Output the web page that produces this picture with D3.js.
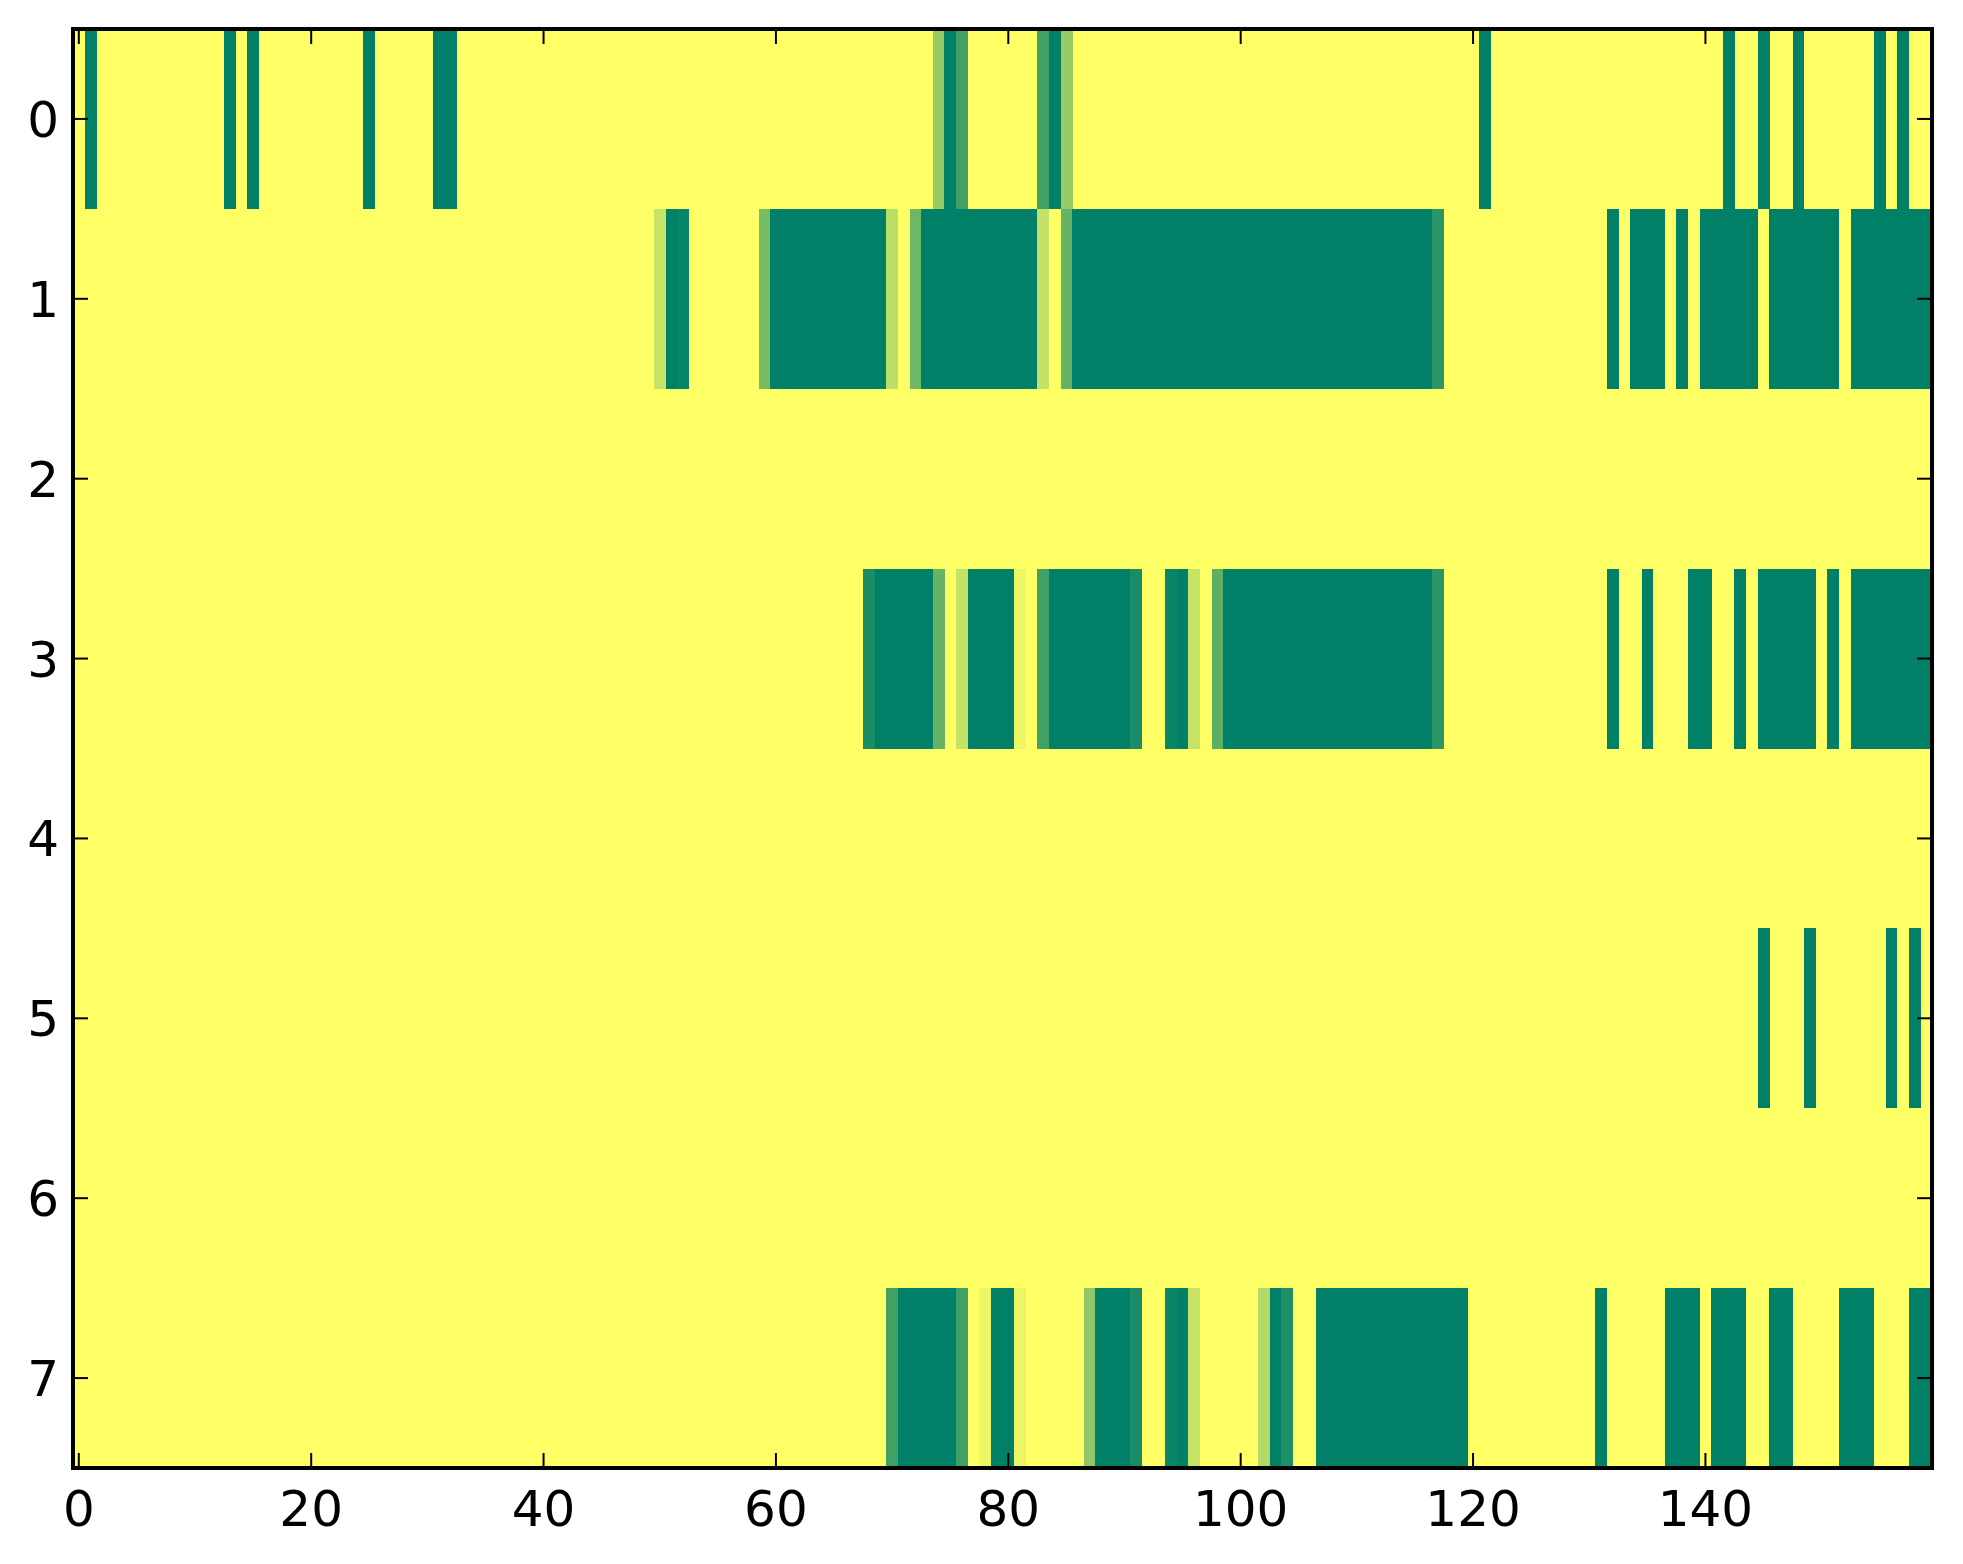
<!DOCTYPE html>
<html>
<head>
<meta charset="utf-8">
<script src="https://cdn.jsdelivr.net/npm/d3@7"></script>
<style>
  body { margin: 0; background: #fff; }
  text { font-family: "DejaVu Sans", sans-serif; }
</style>
</head>
<body>
<script>
// Grid size
const nCols = 160;
const rowLabels = [0, 1, 2, 3, 4, 5, 6, 7];
const xTicks = [0, 20, 40, 60, 80, 100, 120, 140];

// Non-zero cells per row as [firstCol, lastCol, value] (0 = yellow, 1 = dark green)
const row0Runs = [[1,1,1],[13,13,1],[15,15,1],[25,25,1],[31,32,1],[74,74,.41],[75,75,1],[76,76,.75],
  [83,83,.75],[84,84,1],[85,85,.41],[121,121,1],[142,142,1],[145,145,1],[148,148,1],[155,155,1],[157,157,1]];
const row1Runs = [[50,50,.22],[51,51,1],[52,52,.97],[59,59,.53],[60,69,1],[70,70,.26],[72,72,.57],[73,82,1],
  [83,83,.24],[85,85,.6],[86,116,1],[117,117,.83],[132,132,1],[134,136,1],[138,138,1],[140,144,1],
  [146,151,1],[153,159,1]];
const row2Runs = [];
const row3Runs = [[68,68,.9],[69,73,1],[74,74,.6],[76,76,.23],[77,80,1],[81,81,.07],[83,83,.75],[84,90,1],
  [91,91,.9],[94,94,.96],[95,95,1],[96,96,.22],[98,98,.63],[99,116,1],[117,117,.83],[132,132,1],
  [135,135,1],[139,140,1],[143,143,1],[145,149,1],[151,151,1],[153,159,1]];
const row4Runs = [];
const row5Runs = [[145,145,1],[149,149,1],[156,156,1],[158,158,1]];
const row6Runs = [];
const row7Runs = [[70,70,.75],[71,75,1],[76,76,.75],[78,78,.07],[79,80,1],[81,81,.08],[87,87,.44],[88,90,1],
  [91,91,.9],[94,94,.96],[95,95,1],[96,96,.22],[102,102,.3],[103,103,1],[104,104,.88],[107,107,.99],
  [108,119,1],[131,131,1],[137,139,1],[141,143,1],[146,147,1],[152,154,1],[158,159,1]];

const rows = [row0Runs, row1Runs, row2Runs, row3Runs, row4Runs, row5Runs, row6Runs, row7Runs];

const WIDTH = 1963, HEIGHT = 1564;
const LEFT = 73, RIGHT = 1932, TOP = 29, BOTTOM = 1468;
const TICK = 15;

const svg = d3.select('body').append('svg')
  .attr('width', WIDTH)
  .attr('height', HEIGHT);

const x = d3.scaleLinear().domain([-0.5, nCols - 0.5]).range([LEFT, RIGHT]);
const y = d3.scaleLinear().domain([-0.5, rowLabels.length - 0.5]).range([TOP, BOTTOM]);
// summer colormap, reversed: low values yellow, high values green
const color = d3.scaleLinear().domain([0, 1]).range(['#ffff66', '#008066']).interpolate(d3.interpolateRgb);

// expand runs into single cells
const cells = [];
rows.forEach((runs, r) => {
  runs.forEach(([a, b, v]) => {
    for (let c = a; c <= b; c++) cells.push({row: r, col: c, value: v});
  });
});

const plot = svg.append('g').attr('shape-rendering', 'crispEdges');
plot.append('rect')
  .attr('x', LEFT).attr('y', TOP)
  .attr('width', RIGHT - LEFT).attr('height', BOTTOM - TOP)
  .attr('fill', color(0));

plot.selectAll('rect.cell')
  .data(cells)
  .enter()
  .append('rect')
    .attr('class', 'cell')
    .attr('x', d => x(d.col - 0.5))
    .attr('y', d => y(d.row - 0.5))
    .attr('width', x(1) - x(0) + 0.3)
    .attr('height', y(1) - y(0))
    .attr('fill', d => color(d.value));

// ticks pointing inwards on all four sides
const axisG = svg.append('g').attr('stroke', '#000').attr('stroke-width', 2);
xTicks.forEach(t => {
  axisG.append('line').attr('x1', x(t)).attr('x2', x(t)).attr('y1', BOTTOM).attr('y2', BOTTOM - TICK);
  axisG.append('line').attr('x1', x(t)).attr('x2', x(t)).attr('y1', TOP).attr('y2', TOP + TICK);
});
rowLabels.forEach(t => {
  axisG.append('line').attr('x1', LEFT).attr('x2', LEFT + TICK).attr('y1', y(t)).attr('y2', y(t));
  axisG.append('line').attr('x1', RIGHT).attr('x2', RIGHT - TICK).attr('y1', y(t)).attr('y2', y(t));
});

svg.append('rect')
  .attr('x', LEFT).attr('y', TOP)
  .attr('width', RIGHT - LEFT).attr('height', BOTTOM - TOP)
  .attr('fill', 'none')
  .attr('stroke', '#000')
  .attr('stroke-width', 4);

svg.selectAll('text.xlabel')
  .data(xTicks)
  .enter()
  .append('text')
    .attr('class', 'xlabel')
    .attr('x', d => x(d))
    .attr('y', BOTTOM + 58)
    .attr('text-anchor', 'middle')
    .attr('font-size', '50px')
    .text(d => d);

svg.selectAll('text.ylabel')
  .data(rowLabels)
  .enter()
  .append('text')
    .attr('class', 'ylabel')
    .attr('x', LEFT - 14)
    .attr('y', d => y(d) + 18)
    .attr('text-anchor', 'end')
    .attr('font-size', '50px')
    .text(d => d);
</script>
</body>
</html>
